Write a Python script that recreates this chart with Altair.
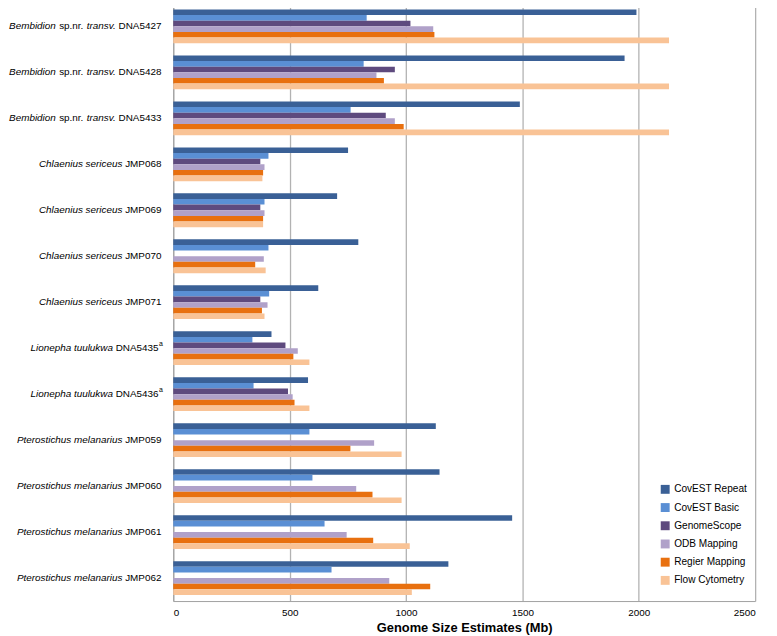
import altair as alt
import pandas as pd

categories = [
    "Bembidion sp.nr. transv. DNA5427",
    "Bembidion sp.nr. transv. DNA5428",
    "Bembidion sp.nr. transv. DNA5433",
    "Chlaenius sericeus JMP068",
    "Chlaenius sericeus JMP069",
    "Chlaenius sericeus JMP070",
    "Chlaenius sericeus JMP071",
    "Lionepha tuulukwa DNA5435a",
    "Lionepha tuulukwa DNA5436a",
    "Pterostichus melanarius JMP059",
    "Pterostichus melanarius JMP060",
    "Pterostichus melanarius JMP061",
    "Pterostichus melanarius JMP062",
]

# label pieces, left to right: (text, style) with style I=italic, R=regular, S=superscript
label_parts = [
    [("Bembidion", "I"), ("sp.nr.", "R"), ("transv.", "I"), ("DNA5427", "R")],
    [("Bembidion", "I"), ("sp.nr.", "R"), ("transv.", "I"), ("DNA5428", "R")],
    [("Bembidion", "I"), ("sp.nr.", "R"), ("transv.", "I"), ("DNA5433", "R")],
    [("Chlaenius sericeus", "I"), ("JMP068", "R")],
    [("Chlaenius sericeus", "I"), ("JMP069", "R")],
    [("Chlaenius sericeus", "I"), ("JMP070", "R")],
    [("Chlaenius sericeus", "I"), ("JMP071", "R")],
    [("Lionepha tuulukwa", "I"), ("DNA5435", "R"), ("a", "S")],
    [("Lionepha tuulukwa", "I"), ("DNA5436", "R"), ("a", "S")],
    [("Pterostichus melanarius", "I"), ("JMP059", "R")],
    [("Pterostichus melanarius", "I"), ("JMP060", "R")],
    [("Pterostichus melanarius", "I"), ("JMP061", "R")],
    [("Pterostichus melanarius", "I"), ("JMP062", "R")],
]

series = ["CovEST Repeat", "CovEST Basic", "GenomeScope", "ODB Mapping", "Regier Mapping", "Flow Cytometry"]
colors = ["#3A6096", "#5A8FD4", "#5E4A7E", "#B0A1C9", "#E8700F", "#F9C396"]

covest_repeat = [1990, 1939, 1489, 751, 704, 795, 623, 422, 579, 1128, 1144, 1456, 1182]
covest_basic = [831, 818, 762, 409, 392, 409, 412, 340, 345, 585, 598, 650, 680]
genomescope = [1019, 952, 913, 374, 374, None, 374, 482, 493, None, None, None, None]
odb_mapping = [1117, 873, 952, 392, 392, 389, 405, 535, 513, 863, 786, 745, 928]
regier_mapping = [1122, 905, 990, 386, 386, 352, 381, 516, 521, 761, 856, 859, 1104]
flow_cytometry = [2130, 2130, 2130, 383, 386, 397, 392, 585, 585, 981, 981, 1016, 1025]

series_values = [covest_repeat, covest_basic, genomescope, odb_mapping, regier_mapping, flow_cytometry]

rows = []
for s, vals in zip(series, series_values):
    for c, v in zip(categories, vals):
        if v is not None:
            rows.append({"cat": c, "series": s, "value": v})
bars_df = pd.DataFrame(rows)

# approximate Arial / Liberation Sans advance widths (em)
W = {" ": .278, ".": .278, "A": .667, "B": .667, "C": .722, "D": .722, "J": .5, "L": .556,
     "M": .833, "N": .722, "P": .667, "a": .556, "b": .556, "c": .5, "d": .556, "e": .556,
     "h": .556, "i": .222, "k": .5, "l": .222, "m": .833, "n": .556, "o": .556, "p": .556,
     "r": .333, "s": .5, "t": .278, "u": .556, "v": .5, "w": .722}
for dgt in "0123456789":
    W[dgt] = .556

FS = 10
SUP_FS = 7


def text_width(t, fs):
    return sum(W.get(ch, .556) for ch in t) * fs


lab_rows = []
for c, parts in zip(categories, label_parts):
    has_sup = parts[-1][1] == "S"
    right = -10.5 if has_sup else -12
    prev_style = None
    for text, style in reversed(parts):
        fs = SUP_FS if style == "S" else FS
        if prev_style is not None and style != "S" and prev_style != "S":
            right -= W[" "] * FS
        elif prev_style == "S":
            right -= 0.5
        lab_rows.append({"cat": c, "txt": text, "style": style, "px": right})
        right -= text_width(text, fs)
        prev_style = style
labels_df = pd.DataFrame(lab_rows)

yscale = alt.Scale(type="band", domain=categories, paddingInner=0.265, paddingOuter=0.1325)

bars = alt.Chart(bars_df).mark_bar().encode(
    x=alt.X("value:Q",
            scale=alt.Scale(domain=[0, 2500], nice=False),
            axis=alt.Axis(values=[0, 500, 1000, 1500, 2000, 2500], format="d",
                          title="Genome Size Estimates (Mb)",
                          grid=True, gridColor="#b2b2b2", gridWidth=1.3, ticks=False,
                          domainColor="#a0a0a0", labelFontSize=10, labelColor="#000000",
                          labelPadding=7, titleFontSize=13, titleFontWeight="bold",
                          titleColor="#000000", titlePadding=4, labelFont="Liberation Sans",
                          titleFont="Liberation Sans")),
    y=alt.Y("cat:N", sort=categories, scale=yscale,
            axis=alt.Axis(labels=False, ticks=False, title=None, grid=False, domainColor="#a0a0a0")),
    yOffset=alt.YOffset("series:N", sort=series, scale=alt.Scale(domain=series, paddingInner=0, paddingOuter=0)),
    color=alt.Color("series:N", sort=series,
                    scale=alt.Scale(domain=series, range=colors),
                    legend=alt.Legend(title=None, orient="none", legendX=492, legendY=486,
                                      symbolType="square", symbolSize=81, symbolStrokeWidth=0,
                                      labelFontSize=10.2, labelFont="Liberation Sans", labelColor="#000000",
                                      labelOffset=4, rowPadding=7.4, padding=0)),
)


def label_layer(style, fs, font_style, dy):
    return alt.Chart(labels_df).transform_filter(alt.datum.style == style).mark_text(
        align="right", baseline="middle", fontSize=fs, fontStyle=font_style,
        font="Liberation Sans", color="#000000", dy=dy
    ).encode(
        x=alt.X("px:Q", scale=None),
        y=alt.Y("cat:N", sort=categories, scale=yscale),
        text="txt:N",
    )


chart = alt.layer(
    bars,
    label_layer("I", FS, "italic", 0),
    label_layer("R", FS, "normal", 0),
    label_layer("S", SUP_FS, "normal", -4),
).properties(
    width=588, height=604,
    autosize=alt.AutoSizeParams(type="none"),
    padding={"left": 167, "top": -8, "right": 14, "bottom": 32},
).configure_view(stroke=None)

chart.save("out.html", embed_options={"renderer": "svg", "actions": False})
